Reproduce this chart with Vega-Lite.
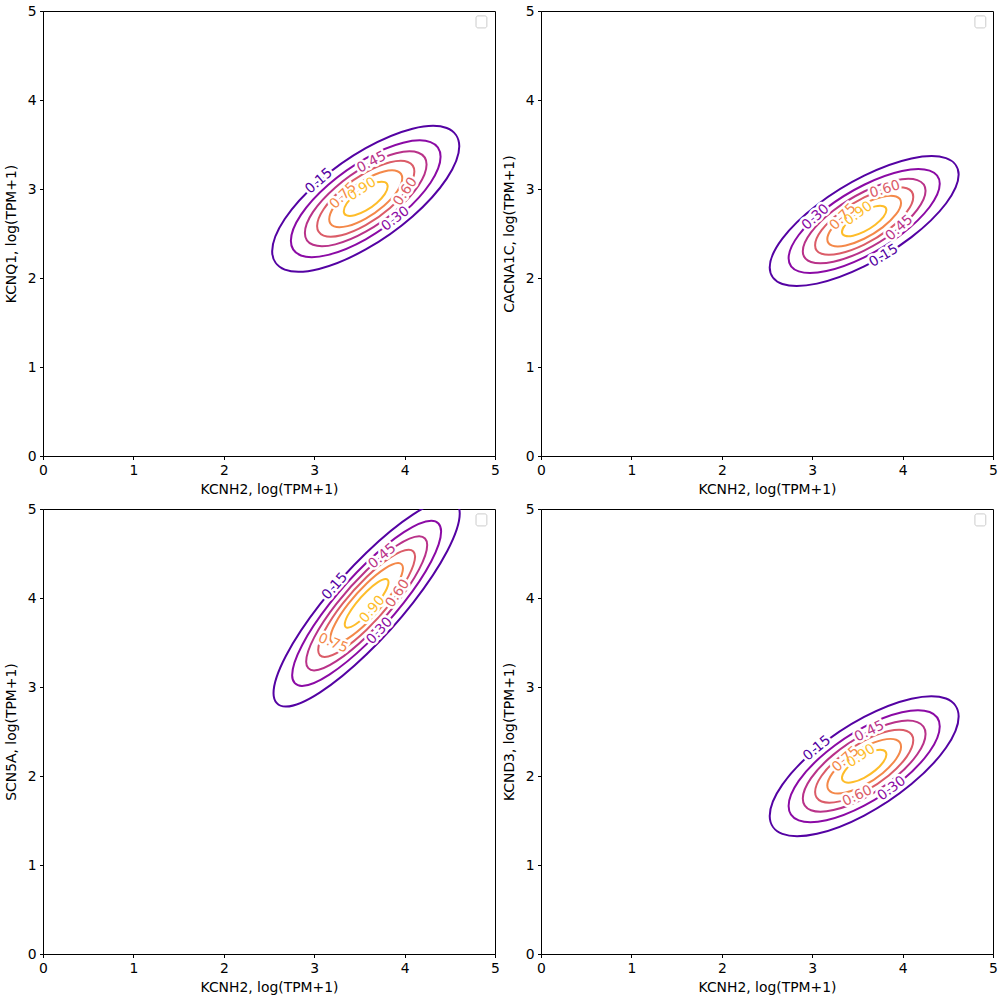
{
"$schema": "https://vega.github.io/schema/vega-lite/v6.json",
"padding": {"left": 3, "top": 3, "right": 5, "bottom": 2},
"config": {
"font": "DejaVu Sans",
"view": {"stroke": "black", "strokeWidth": 1},
"axis": {"grid": false, "domainColor": "black", "tickColor": "black", "labelColor": "black", "titleColor": "black", "labelFont": "DejaVu Sans", "titleFont": "DejaVu Sans", "labelFontSize": 13.9, "titleFontSize": 13.9, "titleFontWeight": "normal", "tickSize": 3.5, "labelPadding": 3.5, "domainWidth": 1, "tickWidth": 1, "labelFlush": false, "labelOverlap": false}
},
"datasets": {
"box": [{"legend": "empty"}],
"c": [
{"p":1,"lv":"0.15","i":0,"x":4.605,"y":3.480},{"p":1,"lv":"0.15","i":1,"x":4.466,"y":3.686},{"p":1,"lv":"0.15","i":2,"x":4.088,"y":3.678},{"p":1,"lv":"0.15","i":3,"x":3.570,"y":3.459},{"p":1,"lv":"0.15","i":4,"x":3.053,"y":3.088},{"p":1,"lv":"0.15","i":5,"x":2.674,"y":2.663},{"p":1,"lv":"0.15","i":6,"x":2.535,"y":2.300},{"p":1,"lv":"0.15","i":7,"x":2.674,"y":2.094},{"p":1,"lv":"0.15","i":8,"x":3.053,"y":2.102},{"p":1,"lv":"0.15","i":9,"x":3.570,"y":2.321},{"p":1,"lv":"0.15","i":10,"x":4.088,"y":2.692},{"p":1,"lv":"0.15","i":11,"x":4.466,"y":3.117},
{"p":1,"lv":"0.30","i":0,"x":4.398,"y":3.362},{"p":1,"lv":"0.30","i":1,"x":4.287,"y":3.527},{"p":1,"lv":"0.30","i":2,"x":3.984,"y":3.520},{"p":1,"lv":"0.30","i":3,"x":3.570,"y":3.345},{"p":1,"lv":"0.30","i":4,"x":3.156,"y":3.048},{"p":1,"lv":"0.30","i":5,"x":2.853,"y":2.709},{"p":1,"lv":"0.30","i":6,"x":2.742,"y":2.418},{"p":1,"lv":"0.30","i":7,"x":2.853,"y":2.253},{"p":1,"lv":"0.30","i":8,"x":3.156,"y":2.260},{"p":1,"lv":"0.30","i":9,"x":3.570,"y":2.435},{"p":1,"lv":"0.30","i":10,"x":3.984,"y":2.732},{"p":1,"lv":"0.30","i":11,"x":4.287,"y":3.071},
{"p":1,"lv":"0.45","i":0,"x":4.243,"y":3.274},{"p":1,"lv":"0.45","i":1,"x":4.153,"y":3.407},{"p":1,"lv":"0.45","i":2,"x":3.906,"y":3.402},{"p":1,"lv":"0.45","i":3,"x":3.570,"y":3.260},{"p":1,"lv":"0.45","i":4,"x":3.234,"y":3.018},{"p":1,"lv":"0.45","i":5,"x":2.987,"y":2.743},{"p":1,"lv":"0.45","i":6,"x":2.897,"y":2.506},{"p":1,"lv":"0.45","i":7,"x":2.987,"y":2.373},{"p":1,"lv":"0.45","i":8,"x":3.234,"y":2.378},{"p":1,"lv":"0.45","i":9,"x":3.570,"y":2.520},{"p":1,"lv":"0.45","i":10,"x":3.906,"y":2.762},{"p":1,"lv":"0.45","i":11,"x":4.153,"y":3.037},
{"p":1,"lv":"0.60","i":0,"x":4.108,"y":3.197},{"p":1,"lv":"0.60","i":1,"x":4.036,"y":3.304},{"p":1,"lv":"0.60","i":2,"x":3.839,"y":3.300},{"p":1,"lv":"0.60","i":3,"x":3.570,"y":3.186},{"p":1,"lv":"0.60","i":4,"x":3.301,"y":2.993},{"p":1,"lv":"0.60","i":5,"x":3.104,"y":2.772},{"p":1,"lv":"0.60","i":6,"x":3.032,"y":2.583},{"p":1,"lv":"0.60","i":7,"x":3.104,"y":2.476},{"p":1,"lv":"0.60","i":8,"x":3.301,"y":2.480},{"p":1,"lv":"0.60","i":9,"x":3.570,"y":2.594},{"p":1,"lv":"0.60","i":10,"x":3.839,"y":2.787},{"p":1,"lv":"0.60","i":11,"x":4.036,"y":3.008},
{"p":1,"lv":"0.75","i":0,"x":3.974,"y":3.120},{"p":1,"lv":"0.75","i":1,"x":3.920,"y":3.200},{"p":1,"lv":"0.75","i":2,"x":3.772,"y":3.197},{"p":1,"lv":"0.75","i":3,"x":3.570,"y":3.112},{"p":1,"lv":"0.75","i":4,"x":3.368,"y":2.967},{"p":1,"lv":"0.75","i":5,"x":3.220,"y":2.802},{"p":1,"lv":"0.75","i":6,"x":3.166,"y":2.660},{"p":1,"lv":"0.75","i":7,"x":3.220,"y":2.580},{"p":1,"lv":"0.75","i":8,"x":3.368,"y":2.583},{"p":1,"lv":"0.75","i":9,"x":3.570,"y":2.668},{"p":1,"lv":"0.75","i":10,"x":3.772,"y":2.813},{"p":1,"lv":"0.75","i":11,"x":3.920,"y":2.978},
{"p":1,"lv":"0.90","i":0,"x":3.813,"y":3.029},{"p":1,"lv":"0.90","i":1,"x":3.781,"y":3.077},{"p":1,"lv":"0.90","i":2,"x":3.692,"y":3.075},{"p":1,"lv":"0.90","i":3,"x":3.570,"y":3.024},{"p":1,"lv":"0.90","i":4,"x":3.448,"y":2.936},{"p":1,"lv":"0.90","i":5,"x":3.359,"y":2.837},{"p":1,"lv":"0.90","i":6,"x":3.327,"y":2.751},{"p":1,"lv":"0.90","i":7,"x":3.359,"y":2.703},{"p":1,"lv":"0.90","i":8,"x":3.448,"y":2.705},{"p":1,"lv":"0.90","i":9,"x":3.570,"y":2.756},{"p":1,"lv":"0.90","i":10,"x":3.692,"y":2.844},{"p":1,"lv":"0.90","i":11,"x":3.781,"y":2.943},

{"p":2,"lv":"0.15","i":0,"x":4.620,"y":3.162},{"p":2,"lv":"0.15","i":1,"x":4.480,"y":3.347},{"p":2,"lv":"0.15","i":2,"x":4.098,"y":3.343},{"p":2,"lv":"0.15","i":3,"x":3.575,"y":3.150},{"p":2,"lv":"0.15","i":4,"x":3.053,"y":2.821},{"p":2,"lv":"0.15","i":5,"x":2.670,"y":2.443},{"p":2,"lv":"0.15","i":6,"x":2.530,"y":2.118},{"p":2,"lv":"0.15","i":7,"x":2.670,"y":1.933},{"p":2,"lv":"0.15","i":8,"x":3.053,"y":1.937},{"p":2,"lv":"0.15","i":9,"x":3.575,"y":2.130},{"p":2,"lv":"0.15","i":10,"x":4.098,"y":2.459},{"p":2,"lv":"0.15","i":11,"x":4.480,"y":2.837},
{"p":2,"lv":"0.30","i":0,"x":4.411,"y":3.058},{"p":2,"lv":"0.30","i":1,"x":4.299,"y":3.206},{"p":2,"lv":"0.30","i":2,"x":3.993,"y":3.202},{"p":2,"lv":"0.30","i":3,"x":3.575,"y":3.048},{"p":2,"lv":"0.30","i":4,"x":3.157,"y":2.785},{"p":2,"lv":"0.30","i":5,"x":2.851,"y":2.483},{"p":2,"lv":"0.30","i":6,"x":2.739,"y":2.222},{"p":2,"lv":"0.30","i":7,"x":2.851,"y":2.074},{"p":2,"lv":"0.30","i":8,"x":3.157,"y":2.078},{"p":2,"lv":"0.30","i":9,"x":3.575,"y":2.232},{"p":2,"lv":"0.30","i":10,"x":3.993,"y":2.495},{"p":2,"lv":"0.30","i":11,"x":4.299,"y":2.798},
{"p":2,"lv":"0.45","i":0,"x":4.254,"y":2.979},{"p":2,"lv":"0.45","i":1,"x":4.163,"y":3.100},{"p":2,"lv":"0.45","i":2,"x":3.915,"y":3.097},{"p":2,"lv":"0.45","i":3,"x":3.575,"y":2.972},{"p":2,"lv":"0.45","i":4,"x":3.235,"y":2.758},{"p":2,"lv":"0.45","i":5,"x":2.987,"y":2.512},{"p":2,"lv":"0.45","i":6,"x":2.896,"y":2.301},{"p":2,"lv":"0.45","i":7,"x":2.987,"y":2.180},{"p":2,"lv":"0.45","i":8,"x":3.235,"y":2.183},{"p":2,"lv":"0.45","i":9,"x":3.575,"y":2.308},{"p":2,"lv":"0.45","i":10,"x":3.915,"y":2.522},{"p":2,"lv":"0.45","i":11,"x":4.163,"y":2.768},
{"p":2,"lv":"0.60","i":0,"x":4.118,"y":2.911},{"p":2,"lv":"0.60","i":1,"x":4.046,"y":3.008},{"p":2,"lv":"0.60","i":2,"x":3.847,"y":3.006},{"p":2,"lv":"0.60","i":3,"x":3.575,"y":2.905},{"p":2,"lv":"0.60","i":4,"x":3.303,"y":2.734},{"p":2,"lv":"0.60","i":5,"x":3.104,"y":2.538},{"p":2,"lv":"0.60","i":6,"x":3.032,"y":2.369},{"p":2,"lv":"0.60","i":7,"x":3.104,"y":2.272},{"p":2,"lv":"0.60","i":8,"x":3.303,"y":2.275},{"p":2,"lv":"0.60","i":9,"x":3.575,"y":2.375},{"p":2,"lv":"0.60","i":10,"x":3.847,"y":2.546},{"p":2,"lv":"0.60","i":11,"x":4.046,"y":2.742},
{"p":2,"lv":"0.75","i":0,"x":3.983,"y":2.844},{"p":2,"lv":"0.75","i":1,"x":3.928,"y":2.916},{"p":2,"lv":"0.75","i":2,"x":3.779,"y":2.914},{"p":2,"lv":"0.75","i":3,"x":3.575,"y":2.839},{"p":2,"lv":"0.75","i":4,"x":3.371,"y":2.711},{"p":2,"lv":"0.75","i":5,"x":3.222,"y":2.563},{"p":2,"lv":"0.75","i":6,"x":3.167,"y":2.436},{"p":2,"lv":"0.75","i":7,"x":3.222,"y":2.364},{"p":2,"lv":"0.75","i":8,"x":3.371,"y":2.366},{"p":2,"lv":"0.75","i":9,"x":3.575,"y":2.441},{"p":2,"lv":"0.75","i":10,"x":3.779,"y":2.569},{"p":2,"lv":"0.75","i":11,"x":3.928,"y":2.717},
{"p":2,"lv":"0.90","i":0,"x":3.821,"y":2.763},{"p":2,"lv":"0.90","i":1,"x":3.788,"y":2.806},{"p":2,"lv":"0.90","i":2,"x":3.698,"y":2.805},{"p":2,"lv":"0.90","i":3,"x":3.575,"y":2.760},{"p":2,"lv":"0.90","i":4,"x":3.452,"y":2.683},{"p":2,"lv":"0.90","i":5,"x":3.363,"y":2.594},{"p":2,"lv":"0.90","i":6,"x":3.329,"y":2.517},{"p":2,"lv":"0.90","i":7,"x":3.363,"y":2.474},{"p":2,"lv":"0.90","i":8,"x":3.452,"y":2.475},{"p":2,"lv":"0.90","i":9,"x":3.575,"y":2.520},{"p":2,"lv":"0.90","i":10,"x":3.698,"y":2.598},{"p":2,"lv":"0.90","i":11,"x":3.788,"y":2.686},

{"p":3,"lv":"0.15","i":0,"x":4.610,"y":4.949},{"p":3,"lv":"0.15","i":1,"x":4.472,"y":5.100},{"p":3,"lv":"0.15","i":2,"x":4.095,"y":4.940},{"p":3,"lv":"0.15","i":3,"x":3.580,"y":4.512},{"p":3,"lv":"0.15","i":4,"x":3.065,"y":3.931},{"p":3,"lv":"0.15","i":5,"x":2.688,"y":3.352},{"p":3,"lv":"0.15","i":6,"x":2.550,"y":2.931},{"p":3,"lv":"0.15","i":7,"x":2.688,"y":2.780},{"p":3,"lv":"0.15","i":8,"x":3.065,"y":2.940},{"p":3,"lv":"0.15","i":9,"x":3.580,"y":3.368},{"p":3,"lv":"0.15","i":10,"x":4.095,"y":3.949},{"p":3,"lv":"0.15","i":11,"x":4.472,"y":4.528},
{"p":3,"lv":"0.30","i":0,"x":4.404,"y":4.747},{"p":3,"lv":"0.30","i":1,"x":4.294,"y":4.868},{"p":3,"lv":"0.30","i":2,"x":3.992,"y":4.740},{"p":3,"lv":"0.30","i":3,"x":3.580,"y":4.398},{"p":3,"lv":"0.30","i":4,"x":3.168,"y":3.933},{"p":3,"lv":"0.30","i":5,"x":2.866,"y":3.470},{"p":3,"lv":"0.30","i":6,"x":2.756,"y":3.133},{"p":3,"lv":"0.30","i":7,"x":2.866,"y":3.012},{"p":3,"lv":"0.30","i":8,"x":3.168,"y":3.140},{"p":3,"lv":"0.30","i":9,"x":3.580,"y":3.482},{"p":3,"lv":"0.30","i":10,"x":3.992,"y":3.947},{"p":3,"lv":"0.30","i":11,"x":4.294,"y":4.410},
{"p":3,"lv":"0.45","i":0,"x":4.250,"y":4.596},{"p":3,"lv":"0.45","i":1,"x":4.160,"y":4.694},{"p":3,"lv":"0.45","i":2,"x":3.915,"y":4.590},{"p":3,"lv":"0.45","i":3,"x":3.580,"y":4.312},{"p":3,"lv":"0.45","i":4,"x":3.245,"y":3.934},{"p":3,"lv":"0.45","i":5,"x":3.000,"y":3.558},{"p":3,"lv":"0.45","i":6,"x":2.911,"y":3.284},{"p":3,"lv":"0.45","i":7,"x":3.000,"y":3.186},{"p":3,"lv":"0.45","i":8,"x":3.245,"y":3.290},{"p":3,"lv":"0.45","i":9,"x":3.580,"y":3.568},{"p":3,"lv":"0.45","i":10,"x":3.915,"y":3.946},{"p":3,"lv":"0.45","i":11,"x":4.160,"y":4.322},
{"p":3,"lv":"0.60","i":0,"x":4.116,"y":4.465},{"p":3,"lv":"0.60","i":1,"x":4.044,"y":4.543},{"p":3,"lv":"0.60","i":2,"x":3.848,"y":4.460},{"p":3,"lv":"0.60","i":3,"x":3.580,"y":4.237},{"p":3,"lv":"0.60","i":4,"x":3.312,"y":3.935},{"p":3,"lv":"0.60","i":5,"x":3.116,"y":3.634},{"p":3,"lv":"0.60","i":6,"x":3.044,"y":3.415},{"p":3,"lv":"0.60","i":7,"x":3.116,"y":3.337},{"p":3,"lv":"0.60","i":8,"x":3.312,"y":3.420},{"p":3,"lv":"0.60","i":9,"x":3.580,"y":3.643},{"p":3,"lv":"0.60","i":10,"x":3.848,"y":3.945},{"p":3,"lv":"0.60","i":11,"x":4.044,"y":4.246},
{"p":3,"lv":"0.75","i":0,"x":3.982,"y":4.334},{"p":3,"lv":"0.75","i":1,"x":3.928,"y":4.392},{"p":3,"lv":"0.75","i":2,"x":3.781,"y":4.330},{"p":3,"lv":"0.75","i":3,"x":3.580,"y":4.163},{"p":3,"lv":"0.75","i":4,"x":3.379,"y":3.936},{"p":3,"lv":"0.75","i":5,"x":3.232,"y":3.711},{"p":3,"lv":"0.75","i":6,"x":3.178,"y":3.546},{"p":3,"lv":"0.75","i":7,"x":3.232,"y":3.488},{"p":3,"lv":"0.75","i":8,"x":3.379,"y":3.550},{"p":3,"lv":"0.75","i":9,"x":3.580,"y":3.717},{"p":3,"lv":"0.75","i":10,"x":3.781,"y":3.944},{"p":3,"lv":"0.75","i":11,"x":3.928,"y":4.169},
{"p":3,"lv":"0.90","i":0,"x":3.822,"y":4.177},{"p":3,"lv":"0.90","i":1,"x":3.790,"y":4.213},{"p":3,"lv":"0.90","i":2,"x":3.701,"y":4.175},{"p":3,"lv":"0.90","i":3,"x":3.580,"y":4.074},{"p":3,"lv":"0.90","i":4,"x":3.459,"y":3.938},{"p":3,"lv":"0.90","i":5,"x":3.370,"y":3.802},{"p":3,"lv":"0.90","i":6,"x":3.338,"y":3.703},{"p":3,"lv":"0.90","i":7,"x":3.370,"y":3.667},{"p":3,"lv":"0.90","i":8,"x":3.459,"y":3.705},{"p":3,"lv":"0.90","i":9,"x":3.580,"y":3.806},{"p":3,"lv":"0.90","i":10,"x":3.701,"y":3.942},{"p":3,"lv":"0.90","i":11,"x":3.790,"y":4.078},

{"p":4,"lv":"0.15","i":0,"x":4.620,"y":2.669},{"p":4,"lv":"0.15","i":1,"x":4.480,"y":2.871},{"p":4,"lv":"0.15","i":2,"x":4.098,"y":2.869},{"p":4,"lv":"0.15","i":3,"x":3.575,"y":2.664},{"p":4,"lv":"0.15","i":4,"x":3.053,"y":2.311},{"p":4,"lv":"0.15","i":5,"x":2.670,"y":1.903},{"p":4,"lv":"0.15","i":6,"x":2.530,"y":1.551},{"p":4,"lv":"0.15","i":7,"x":2.670,"y":1.349},{"p":4,"lv":"0.15","i":8,"x":3.053,"y":1.351},{"p":4,"lv":"0.15","i":9,"x":3.575,"y":1.556},{"p":4,"lv":"0.15","i":10,"x":4.098,"y":1.910},{"p":4,"lv":"0.15","i":11,"x":4.480,"y":2.317},
{"p":4,"lv":"0.30","i":0,"x":4.411,"y":2.557},{"p":4,"lv":"0.30","i":1,"x":4.299,"y":2.719},{"p":4,"lv":"0.30","i":2,"x":3.993,"y":2.717},{"p":4,"lv":"0.30","i":3,"x":3.575,"y":2.553},{"p":4,"lv":"0.30","i":4,"x":3.157,"y":2.270},{"p":4,"lv":"0.30","i":5,"x":2.851,"y":1.945},{"p":4,"lv":"0.30","i":6,"x":2.739,"y":1.663},{"p":4,"lv":"0.30","i":7,"x":2.851,"y":1.501},{"p":4,"lv":"0.30","i":8,"x":3.157,"y":1.503},{"p":4,"lv":"0.30","i":9,"x":3.575,"y":1.667},{"p":4,"lv":"0.30","i":10,"x":3.993,"y":1.950},{"p":4,"lv":"0.30","i":11,"x":4.299,"y":2.275},
{"p":4,"lv":"0.45","i":0,"x":4.254,"y":2.473},{"p":4,"lv":"0.45","i":1,"x":4.163,"y":2.605},{"p":4,"lv":"0.45","i":2,"x":3.915,"y":2.604},{"p":4,"lv":"0.45","i":3,"x":3.575,"y":2.470},{"p":4,"lv":"0.45","i":4,"x":3.235,"y":2.240},{"p":4,"lv":"0.45","i":5,"x":2.987,"y":1.976},{"p":4,"lv":"0.45","i":6,"x":2.896,"y":1.747},{"p":4,"lv":"0.45","i":7,"x":2.987,"y":1.615},{"p":4,"lv":"0.45","i":8,"x":3.235,"y":1.617},{"p":4,"lv":"0.45","i":9,"x":3.575,"y":1.750},{"p":4,"lv":"0.45","i":10,"x":3.915,"y":1.980},{"p":4,"lv":"0.45","i":11,"x":4.163,"y":2.244},
{"p":4,"lv":"0.60","i":0,"x":4.118,"y":2.401},{"p":4,"lv":"0.60","i":1,"x":4.046,"y":2.506},{"p":4,"lv":"0.60","i":2,"x":3.847,"y":2.505},{"p":4,"lv":"0.60","i":3,"x":3.575,"y":2.398},{"p":4,"lv":"0.60","i":4,"x":3.303,"y":2.214},{"p":4,"lv":"0.60","i":5,"x":3.104,"y":2.003},{"p":4,"lv":"0.60","i":6,"x":3.032,"y":1.819},{"p":4,"lv":"0.60","i":7,"x":3.104,"y":1.714},{"p":4,"lv":"0.60","i":8,"x":3.303,"y":1.715},{"p":4,"lv":"0.60","i":9,"x":3.575,"y":1.822},{"p":4,"lv":"0.60","i":10,"x":3.847,"y":2.006},{"p":4,"lv":"0.60","i":11,"x":4.046,"y":2.218},
{"p":4,"lv":"0.75","i":0,"x":3.983,"y":2.328},{"p":4,"lv":"0.75","i":1,"x":3.928,"y":2.407},{"p":4,"lv":"0.75","i":2,"x":3.779,"y":2.406},{"p":4,"lv":"0.75","i":3,"x":3.575,"y":2.326},{"p":4,"lv":"0.75","i":4,"x":3.371,"y":2.188},{"p":4,"lv":"0.75","i":5,"x":3.222,"y":2.029},{"p":4,"lv":"0.75","i":6,"x":3.167,"y":1.892},{"p":4,"lv":"0.75","i":7,"x":3.222,"y":1.813},{"p":4,"lv":"0.75","i":8,"x":3.371,"y":1.814},{"p":4,"lv":"0.75","i":9,"x":3.575,"y":1.894},{"p":4,"lv":"0.75","i":10,"x":3.779,"y":2.032},{"p":4,"lv":"0.75","i":11,"x":3.928,"y":2.191},
{"p":4,"lv":"0.90","i":0,"x":3.821,"y":2.241},{"p":4,"lv":"0.90","i":1,"x":3.788,"y":2.289},{"p":4,"lv":"0.90","i":2,"x":3.698,"y":2.288},{"p":4,"lv":"0.90","i":3,"x":3.575,"y":2.240},{"p":4,"lv":"0.90","i":4,"x":3.452,"y":2.157},{"p":4,"lv":"0.90","i":5,"x":3.363,"y":2.061},{"p":4,"lv":"0.90","i":6,"x":3.329,"y":1.979},{"p":4,"lv":"0.90","i":7,"x":3.363,"y":1.931},{"p":4,"lv":"0.90","i":8,"x":3.452,"y":1.932},{"p":4,"lv":"0.90","i":9,"x":3.575,"y":1.980},{"p":4,"lv":"0.90","i":10,"x":3.698,"y":2.063},{"p":4,"lv":"0.90","i":11,"x":3.788,"y":2.159}
],
"lab": [
{"p":1,"lv":"0.15","x":3.053,"y":3.088,"a":-41},{"p":1,"lv":"0.30","x":3.90,"y":2.665,"a":-38},{"p":1,"lv":"0.45","x":3.635,"y":3.30,"a":-27},{"p":1,"lv":"0.60","x":4.01,"y":2.97,"a":-55},{"p":1,"lv":"0.75","x":3.32,"y":2.923,"a":-45},{"p":1,"lv":"0.90","x":3.528,"y":2.998,"a":-33},
{"p":2,"lv":"0.30","x":3.038,"y":2.684,"a":-42},{"p":2,"lv":"0.60","x":3.805,"y":2.995,"a":-17},{"p":2,"lv":"0.75","x":3.341,"y":2.686,"a":-45},{"p":2,"lv":"0.90","x":3.511,"y":2.724,"a":-35},{"p":2,"lv":"0.45","x":3.965,"y":2.563,"a":-42},{"p":2,"lv":"0.15","x":3.792,"y":2.249,"a":-31},
{"p":3,"lv":"0.15","x":3.228,"y":4.132,"a":-49},{"p":3,"lv":"0.45","x":3.753,"y":4.469,"a":-40},{"p":3,"lv":"0.90","x":3.643,"y":3.872,"a":-50},{"p":3,"lv":"0.60","x":3.924,"y":4.050,"a":-55},{"p":3,"lv":"0.30","x":3.723,"y":3.630,"a":-47},{"p":3,"lv":"0.75","x":3.21,"y":3.49,"a":22},
{"p":4,"lv":"0.15","x":3.053,"y":2.311,"a":-40},{"p":4,"lv":"0.45","x":3.634,"y":2.501,"a":-26},{"p":4,"lv":"0.75","x":3.371,"y":2.188,"a":-42},{"p":4,"lv":"0.90","x":3.54,"y":2.225,"a":-33},{"p":4,"lv":"0.60","x":3.50,"y":1.775,"a":-25},{"p":4,"lv":"0.30","x":3.88,"y":1.86,"a":-37}
]
},
"columns": 2,
"spacing": {"row": 53, "column": 46},
"bounds": "flush",
"concat": [
{"width": 452, "height": 445, "layer": [
 {"data": {"name": "c"}, "transform": [{"filter": "datum.p == 1"}], "mark": {"type": "line", "interpolate": "cardinal-closed", "strokeWidth": 2, "clip": true},
  "encoding": {"x": {"field": "x", "type": "quantitative", "scale": {"domain": [0,5], "nice": false}, "axis": {"title": "KCNH2, log(TPM+1)", "titlePadding": 6, "values": [0,1,2,3,4,5], "format": "d"}},
   "y": {"field": "y", "type": "quantitative", "scale": {"domain": [0,5], "nice": false}, "axis": {"title": "KCNQ1, log(TPM+1)", "titlePadding": 9, "values": [0,1,2,3,4,5], "format": "d"}},
   "color": {"field": "lv", "type": "ordinal", "scale": {"domain": ["0.15","0.30","0.45","0.60","0.75","0.90"], "range": ["#5402a3","#8b0aa5","#b93289","#db5c68","#f48849","#febd2a"]}, "legend": null},
   "order": {"field": "i", "type": "quantitative"}}},
 {"data": {"name": "lab"}, "transform": [{"filter": "datum.p == 1"}], "mark": {"type": "text", "fontSize": 13.9, "font": "DejaVu Sans", "fill": "white", "stroke": "white", "strokeWidth": 5, "strokeJoin": "round", "align": "center", "baseline": "middle"},
  "encoding": {"x": {"field": "x", "type": "quantitative"}, "y": {"field": "y", "type": "quantitative"}, "text": {"field": "lv"}, "angle": {"field": "a", "type": "quantitative", "scale": null}}},
 {"data": {"name": "lab"}, "transform": [{"filter": "datum.p == 1"}], "mark": {"type": "text", "fontSize": 13.9, "font": "DejaVu Sans", "align": "center", "baseline": "middle"},
  "encoding": {"x": {"field": "x", "type": "quantitative"}, "y": {"field": "y", "type": "quantitative"}, "text": {"field": "lv"}, "angle": {"field": "a", "type": "quantitative", "scale": null}, "color": {"field": "lv", "type": "ordinal", "legend": null}}},
 {"data": {"name": "box"}, "mark": {"type": "rect", "fill": "white", "stroke": "#cccccc", "strokeWidth": 1, "cornerRadius": 2}, "encoding": {"x": {"datum": 4.79, "type": "quantitative"}, "x2": {"datum": 4.91}, "y": {"datum": 4.81, "type": "quantitative"}, "y2": {"datum": 4.945}}}
]},
{"width": 452, "height": 445, "layer": [
 {"data": {"name": "c"}, "transform": [{"filter": "datum.p == 2"}], "mark": {"type": "line", "interpolate": "cardinal-closed", "strokeWidth": 2, "clip": true},
  "encoding": {"x": {"field": "x", "type": "quantitative", "scale": {"domain": [0,5], "nice": false}, "axis": {"title": "KCNH2, log(TPM+1)", "titlePadding": 6, "values": [0,1,2,3,4,5], "format": "d"}},
   "y": {"field": "y", "type": "quantitative", "scale": {"domain": [0,5], "nice": false}, "axis": {"title": "CACNA1C, log(TPM+1)", "titlePadding": 9, "values": [0,1,2,3,4,5], "format": "d"}},
   "color": {"field": "lv", "type": "ordinal", "scale": {"domain": ["0.15","0.30","0.45","0.60","0.75","0.90"], "range": ["#5402a3","#8b0aa5","#b93289","#db5c68","#f48849","#febd2a"]}, "legend": null},
   "order": {"field": "i", "type": "quantitative"}}},
 {"data": {"name": "lab"}, "transform": [{"filter": "datum.p == 2"}], "mark": {"type": "text", "fontSize": 13.9, "font": "DejaVu Sans", "fill": "white", "stroke": "white", "strokeWidth": 5, "strokeJoin": "round", "align": "center", "baseline": "middle"},
  "encoding": {"x": {"field": "x", "type": "quantitative"}, "y": {"field": "y", "type": "quantitative"}, "text": {"field": "lv"}, "angle": {"field": "a", "type": "quantitative", "scale": null}}},
 {"data": {"name": "lab"}, "transform": [{"filter": "datum.p == 2"}], "mark": {"type": "text", "fontSize": 13.9, "font": "DejaVu Sans", "align": "center", "baseline": "middle"},
  "encoding": {"x": {"field": "x", "type": "quantitative"}, "y": {"field": "y", "type": "quantitative"}, "text": {"field": "lv"}, "angle": {"field": "a", "type": "quantitative", "scale": null}, "color": {"field": "lv", "type": "ordinal", "legend": null}}},
 {"data": {"name": "box"}, "mark": {"type": "rect", "fill": "white", "stroke": "#cccccc", "strokeWidth": 1, "cornerRadius": 2}, "encoding": {"x": {"datum": 4.80, "type": "quantitative"}, "x2": {"datum": 4.92}, "y": {"datum": 4.81, "type": "quantitative"}, "y2": {"datum": 4.945}}}
]},
{"width": 452, "height": 445, "layer": [
 {"data": {"name": "c"}, "transform": [{"filter": "datum.p == 3"}], "mark": {"type": "line", "interpolate": "cardinal-closed", "strokeWidth": 2, "clip": true},
  "encoding": {"x": {"field": "x", "type": "quantitative", "scale": {"domain": [0,5], "nice": false}, "axis": {"title": "KCNH2, log(TPM+1)", "titlePadding": 6, "values": [0,1,2,3,4,5], "format": "d"}},
   "y": {"field": "y", "type": "quantitative", "scale": {"domain": [0,5], "nice": false}, "axis": {"title": "SCN5A, log(TPM+1)", "titlePadding": 9, "values": [0,1,2,3,4,5], "format": "d"}},
   "color": {"field": "lv", "type": "ordinal", "scale": {"domain": ["0.15","0.30","0.45","0.60","0.75","0.90"], "range": ["#5402a3","#8b0aa5","#b93289","#db5c68","#f48849","#febd2a"]}, "legend": null},
   "order": {"field": "i", "type": "quantitative"}}},
 {"data": {"name": "lab"}, "transform": [{"filter": "datum.p == 3"}], "mark": {"type": "text", "fontSize": 13.9, "font": "DejaVu Sans", "fill": "white", "stroke": "white", "strokeWidth": 5, "strokeJoin": "round", "align": "center", "baseline": "middle"},
  "encoding": {"x": {"field": "x", "type": "quantitative"}, "y": {"field": "y", "type": "quantitative"}, "text": {"field": "lv"}, "angle": {"field": "a", "type": "quantitative", "scale": null}}},
 {"data": {"name": "lab"}, "transform": [{"filter": "datum.p == 3"}], "mark": {"type": "text", "fontSize": 13.9, "font": "DejaVu Sans", "align": "center", "baseline": "middle"},
  "encoding": {"x": {"field": "x", "type": "quantitative"}, "y": {"field": "y", "type": "quantitative"}, "text": {"field": "lv"}, "angle": {"field": "a", "type": "quantitative", "scale": null}, "color": {"field": "lv", "type": "ordinal", "legend": null}}},
 {"data": {"name": "box"}, "mark": {"type": "rect", "fill": "white", "stroke": "#cccccc", "strokeWidth": 1, "cornerRadius": 2}, "encoding": {"x": {"datum": 4.79, "type": "quantitative"}, "x2": {"datum": 4.91}, "y": {"datum": 4.81, "type": "quantitative"}, "y2": {"datum": 4.945}}}
]},
{"width": 452, "height": 445, "layer": [
 {"data": {"name": "c"}, "transform": [{"filter": "datum.p == 4"}], "mark": {"type": "line", "interpolate": "cardinal-closed", "strokeWidth": 2, "clip": true},
  "encoding": {"x": {"field": "x", "type": "quantitative", "scale": {"domain": [0,5], "nice": false}, "axis": {"title": "KCNH2, log(TPM+1)", "titlePadding": 6, "values": [0,1,2,3,4,5], "format": "d"}},
   "y": {"field": "y", "type": "quantitative", "scale": {"domain": [0,5], "nice": false}, "axis": {"title": "KCND3, log(TPM+1)", "titlePadding": 9, "values": [0,1,2,3,4,5], "format": "d"}},
   "color": {"field": "lv", "type": "ordinal", "scale": {"domain": ["0.15","0.30","0.45","0.60","0.75","0.90"], "range": ["#5402a3","#8b0aa5","#b93289","#db5c68","#f48849","#febd2a"]}, "legend": null},
   "order": {"field": "i", "type": "quantitative"}}},
 {"data": {"name": "lab"}, "transform": [{"filter": "datum.p == 4"}], "mark": {"type": "text", "fontSize": 13.9, "font": "DejaVu Sans", "fill": "white", "stroke": "white", "strokeWidth": 5, "strokeJoin": "round", "align": "center", "baseline": "middle"},
  "encoding": {"x": {"field": "x", "type": "quantitative"}, "y": {"field": "y", "type": "quantitative"}, "text": {"field": "lv"}, "angle": {"field": "a", "type": "quantitative", "scale": null}}},
 {"data": {"name": "lab"}, "transform": [{"filter": "datum.p == 4"}], "mark": {"type": "text", "fontSize": 13.9, "font": "DejaVu Sans", "align": "center", "baseline": "middle"},
  "encoding": {"x": {"field": "x", "type": "quantitative"}, "y": {"field": "y", "type": "quantitative"}, "text": {"field": "lv"}, "angle": {"field": "a", "type": "quantitative", "scale": null}, "color": {"field": "lv", "type": "ordinal", "legend": null}}},
 {"data": {"name": "box"}, "mark": {"type": "rect", "fill": "white", "stroke": "#cccccc", "strokeWidth": 1, "cornerRadius": 2}, "encoding": {"x": {"datum": 4.80, "type": "quantitative"}, "x2": {"datum": 4.92}, "y": {"datum": 4.81, "type": "quantitative"}, "y2": {"datum": 4.945}}}
]}
]
}
